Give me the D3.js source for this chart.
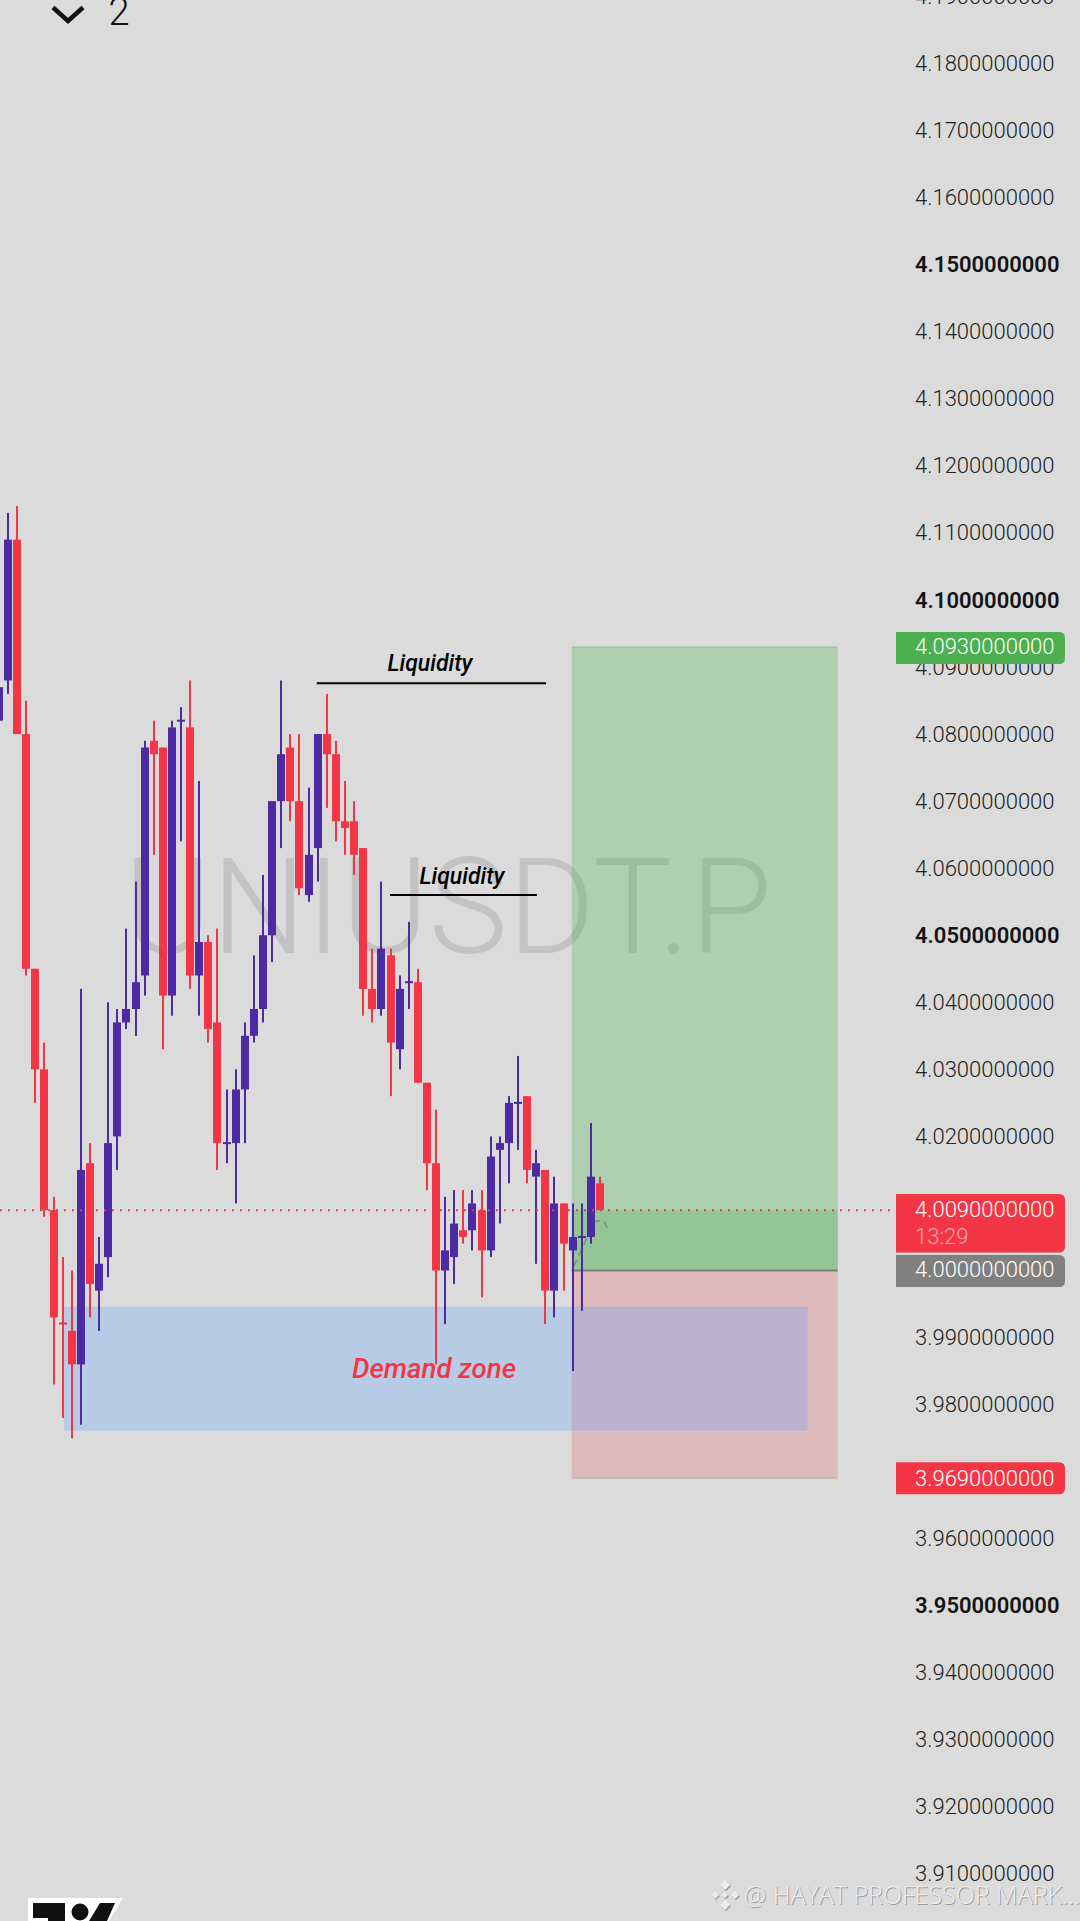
<!DOCTYPE html>
<html>
<head>
<meta charset="utf-8">
<script src="https://cdn.jsdelivr.net/npm/d3@7"></script>
<style>
html, body { margin: 0; padding: 0; background: #dbdbdb; overflow: hidden; }
svg { display: block; }
text { font-family: Roboto, sans-serif; }
</style>
</head>
<body>
<div id="chart"></div>
<script>
// candles, left to right, first one is cut by the screen edge
var opens = [4.082,4.088,4.109,4.080,4.045,4.030,4.009,3.9921,3.991,3.986,4.016,3.997,4.002,4.020,4.037,4.039,4.044,4.079,4.078,4.041,4.082,4.081,4.044,4.049,4.037,4.019,4.019,4.027,4.035,4.039,4.050,4.070,4.078,4.070,4.056,4.063,4.080,4.077,4.067,4.067,4.063,4.042,4.039,4.047,4.033,4.043,4.043,4.028,4.016,4.000,4.002,4.006,4.006,4.009,4.003,4.018,4.019,4.025,4.026,4.014,4.015,3.997,4.010,4.003,4.005,4.005,4.013];
var closes = [4.087,4.109,4.080,4.045,4.030,4.009,3.993,3.992,3.986,4.015,3.998,4.001,4.019,4.037,4.039,4.043,4.078,4.077,4.041,4.081,4.082,4.044,4.049,4.036,4.019,4.019,4.027,4.035,4.039,4.050,4.070,4.077,4.070,4.057,4.062,4.080,4.077,4.067,4.066,4.062,4.042,4.039,4.048,4.034,4.042,4.043,4.028,4.016,4.000,4.003,4.007,4.005,4.010,4.003,4.017,4.019,4.025,4.025,4.015,4.016,3.997,4.010,4.004,4.005,4.005,4.014,4.009];
var highs = [4.087,4.113,4.114,4.085,4.045,4.034,4.011,4.002,4.000,4.042,4.019,4.005,4.040,4.039,4.051,4.058,4.079,4.082,4.078,4.082,4.084,4.088,4.073,4.050,4.051,4.027,4.030,4.037,4.047,4.059,4.070,4.088,4.080,4.080,4.072,4.080,4.086,4.079,4.073,4.070,4.063,4.048,4.058,4.048,4.044,4.052,4.045,4.028,4.024,4.011,4.012,4.012,4.012,4.012,4.020,4.020,4.026,4.032,4.026,4.018,4.015,4.014,4.010,4.010,4.010,4.022,4.014];
var lows = [4.082,4.086,4.080,4.044,4.025,4.008,3.983,3.978,3.975,3.977,3.993,3.991,3.999,4.015,4.036,4.035,4.041,4.062,4.033,4.038,4.064,4.042,4.038,4.034,4.015,4.016,4.010,4.019,4.034,4.037,4.046,4.063,4.067,4.056,4.055,4.058,4.069,4.064,4.062,4.059,4.038,4.037,4.038,4.026,4.030,4.039,4.028,4.012,3.986,3.992,3.998,4.004,4.003,3.996,4.002,4.007,4.013,4.018,4.013,4.001,3.992,3.993,3.997,3.985,3.994,4.004,4.009];

var priceTicks = d3.range(391, 420).map(function(d) { return d / 100; });
var lastPrice = 4.009;
var entryPrice = 4.000;
var targetPrice = 4.093;
var stopPrice = 3.969;
var demandTop = 3.9946;
var demandBottom = 3.9761;
var liquidityHigh = 4.0876;
var liquidityLow = 4.056;
var arrowPrices = [4.0006, 4.0073, 4.0075, 4.0063];
var arrowBars = [63.1, 65.4, 66.4, 66.8];

var width = 1080, height = 1921;
var upColor = "#4b2aa3", downColor = "#f23645";

var x = d3.scaleLinear().domain([0, 66]).range([-1.1, 600]);
var y = d3.scaleLinear().domain([3.9, 4.2]).range([1941, -70.5]);

var svg = d3.select("#chart").append("svg")
    .attr("width", width)
    .attr("height", height)
    .style("background", "#dbdbdb");

// symbol watermark sits under everything
svg.append("text")
    .attr("x", 448)
    .attr("y", 953)
    .attr("text-anchor", "middle")
    .style("font-size", "133px")
    .style("font-weight", 300)
    .style("fill", "#c3c3c3")
    .text("UNIUSDT.P");

// long position tool
var toolLeft = x(62.9), toolRight = x(92.1);
svg.append("rect").attr("x", toolLeft).attr("width", toolRight - toolLeft)
    .attr("y", y(targetPrice)).attr("height", y(entryPrice) - y(targetPrice))
    .attr("fill", "#4caf50").attr("fill-opacity", 0.3);
svg.append("rect").attr("x", toolLeft).attr("width", toolRight - toolLeft)
    .attr("y", y(lastPrice)).attr("height", y(entryPrice) - y(lastPrice))
    .attr("fill", "#4caf50").attr("fill-opacity", 0.3);
svg.append("rect").attr("x", toolLeft).attr("width", toolRight - toolLeft)
    .attr("y", y(entryPrice)).attr("height", y(stopPrice) - y(entryPrice))
    .attr("fill", "#f23645").attr("fill-opacity", 0.2);
svg.append("line").attr("x1", toolLeft).attr("x2", toolRight)
    .attr("y1", y(entryPrice)).attr("y2", y(entryPrice))
    .attr("stroke", "#7f7f7f").attr("stroke-width", 2);
// faint edge along the outer sides of the tool
svg.append("line").attr("x1", toolLeft).attr("x2", toolRight)
    .attr("y1", y(targetPrice)).attr("y2", y(targetPrice))
    .attr("stroke", "#4caf50").attr("stroke-opacity", 0.2).attr("stroke-width", 2);
svg.append("line").attr("x1", toolLeft).attr("x2", toolRight)
    .attr("y1", y(stopPrice)).attr("y2", y(stopPrice))
    .attr("stroke", "#4caf50").attr("stroke-opacity", 0.2).attr("stroke-width", 2);

// demand zone
svg.append("rect").attr("x", x(7.15)).attr("width", x(88.8) - x(7.15))
    .attr("y", y(demandTop)).attr("height", y(demandBottom) - y(demandTop))
    .attr("fill", "rgb(75,155,255)").attr("fill-opacity", 0.25);

// little projected path behind the last candles
var arrowLine = d3.line()
    .x(function(d) { return x(d); })
    .y(function(d, i) { return y(arrowPrices[i]); });
svg.append("path")
    .attr("d", arrowLine(arrowBars))
    .attr("fill", "none")
    .attr("stroke", "#858585")
    .attr("stroke-width", 1.5)
    .attr("stroke-dasharray", "7 5");

// candles
var candles = svg.append("g").attr("class", "candles");
opens.forEach(function(open, i) {
    var close = closes[i];
    var color = close >= open ? upColor : downColor;
    var cx = Math.round(x(i));
    candles.append("rect")
        .attr("x", cx - 1).attr("width", 2)
        .attr("y", y(highs[i])).attr("height", y(lows[i]) - y(highs[i]))
        .attr("fill", color);
    var top = y(Math.max(open, close));
    var h = Math.max(2, y(Math.min(open, close)) - top);
    candles.append("rect")
        .attr("x", cx - 4).attr("width", 8)
        .attr("y", h === 2 ? top - 1 : top).attr("height", h)
        .attr("fill", color);
});

// last price line
svg.append("line")
    .attr("x1", 0).attr("x2", 890)
    .attr("y1", y(lastPrice)).attr("y2", y(lastPrice))
    .attr("stroke", "#d2444f")
    .attr("stroke-width", 2)
    .attr("stroke-dasharray", "2 6");

// annotations
function liquidity(from, to, price, labelX, labelY) {
    svg.append("line")
        .attr("x1", x(from)).attr("x2", x(to))
        .attr("y1", y(price)).attr("y2", y(price))
        .attr("stroke", "#000").attr("stroke-width", 2);
    svg.append("text")
        .attr("x", labelX).attr("y", labelY)
        .attr("text-anchor", "middle")
        .style("font-size", "23px")
        .style("font-style", "italic")
        .style("font-weight", 500)
        .style("fill", "#000")
        .text("Liquidity");
}
liquidity(34.9, 60.07, liquidityHigh, 430, 671);
liquidity(42.94, 59.08, liquidityLow, 462, 884);

svg.append("text")
    .attr("x", 434).attr("y", 1377.5)
    .attr("text-anchor", "middle")
    .style("font-size", "27.6px")
    .style("font-style", "italic")
    .style("font-weight", 500)
    .style("fill", "#f23645")
    .text("Demand zone");

// price axis
var axis = d3.axisRight(y)
    .tickValues(priceTicks)
    .tickSize(0)
    .tickPadding(0)
    .tickFormat(d3.format(".10f"));
var axisG = svg.append("g")
    .attr("transform", "translate(915,0)")
    .call(axis);
axisG.select(".domain").remove();
axisG.selectAll("text")
    .style("font-family", "Roboto, sans-serif")
    .style("font-size", "22px")
    .style("font-weight", function(d) { return Math.round(d * 100) % 5 === 0 ? 600 : 300; })
    .style("fill", function(d) { return Math.round(d * 100) % 5 === 0 ? "#131313" : "#222"; });

// price labels
function priceBox(price, yTop, yBottom, fill, textY) {
    var p = d3.path(), l = 896, r = 1065, rad = 6;
    p.moveTo(l, yTop);
    p.lineTo(r - rad, yTop);
    p.quadraticCurveTo(r, yTop, r, yTop + rad);
    p.lineTo(r, yBottom - rad);
    p.quadraticCurveTo(r, yBottom, r - rad, yBottom);
    p.lineTo(l, yBottom);
    p.closePath();
    svg.append("path").attr("d", p.toString()).attr("fill", fill);
    svg.append("text")
        .attr("x", 915).attr("y", textY)
        .attr("dy", "0.34em")
        .style("font-size", "22px")
        .style("font-weight", 300)
        .style("fill", "#fff")
        .text(d3.format(".10f")(price));
}
priceBox(targetPrice, 632, 664, "#4caf50", y(targetPrice));
priceBox(stopPrice, y(stopPrice) - 16, y(stopPrice) + 16, "#f23645", y(stopPrice));
priceBox(entryPrice, 1255, 1287, "#808080", y(entryPrice) - 0.5);
priceBox(lastPrice, 1194, 1252.5, "#f23645", 1209.5);
svg.append("text")
    .attr("x", 915).attr("y", 1243.5)
    .style("font-size", "22px")
    .style("font-weight", 300)
    .style("fill", "#fba3aa")
    .text("13:29");

// collapsed indicators at the top
svg.append("path")
    .attr("d", "M53,7.5L68,21L83,7.5")
    .attr("fill", "none")
    .attr("stroke", "#111")
    .attr("stroke-width", 4.5);
svg.append("text")
    .attr("x", 108.5).attr("y", 25)
    .style("font-size", "38px")
    .style("font-weight", 300)
    .style("fill", "#111")
    .text("2");

// tradingview logo, cut by the bottom edge
svg.append("path").attr("d", "M28,1898H123L109,1921H28Z").attr("fill", "#fff");
svg.append("path").attr("d", "M33,1903H65V1921H48V1918H33Z").attr("fill", "#111");
svg.append("circle").attr("cx", 80).attr("cy", 1912).attr("r", 8.5).attr("fill", "#111");
svg.append("path").attr("d", "M100,1903H115L107,1921H89Z").attr("fill", "#111");

// binance feed credit
var credit = svg.append("g");
[[1, 1.2, "#9c9c9c"], [0, 0, "#ececec"]].forEach(function(s) {
    var g = credit.append("g").attr("transform", "translate(" + s[0] + "," + s[1] + ")");
    g.append("text")
        .attr("x", 744).attr("y", 1904)
        .style("font-family", "'Open Sans', sans-serif")
        .style("font-size", "25px")
        .style("font-weight", 300)
        .style("fill", s[2])
        .text("@ HAYAT PROFESSOR MARK...");
    [[725, 1885, 5], [715, 1895, 4], [735, 1895, 4], [725, 1895, 3], [725, 1905, 5]].forEach(function(d) {
        g.append("path")
            .attr("d", "M" + d[0] + "," + (d[1] - d[2]) + "L" + (d[0] + d[2]) + "," + d[1] + "L" + d[0] + "," + (d[1] + d[2]) + "L" + (d[0] - d[2]) + "," + d[1] + "Z")
            .attr("fill", s[2]);
    });
});
</script>
</body>
</html>
